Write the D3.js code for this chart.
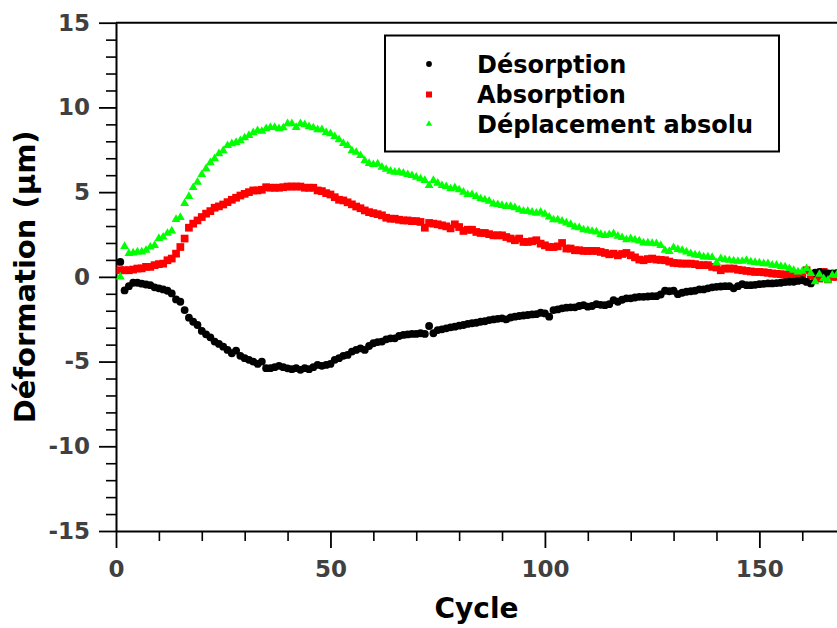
<!DOCTYPE html>
<html>
<head>
<meta charset="utf-8">
<script src="https://cdn.jsdelivr.net/npm/d3@7"></script>
<style>
  html, body { margin: 0; padding: 0; background: #fff; }
  svg { display: block; }
  text { font-family: "DejaVu Sans", sans-serif; font-weight: bold; }
</style>
</head>
<body>
<svg id="chart" width="837" height="628"></svg>
<script>
// ---- data ----
const seriesNames = ["Désorption", "Absorption", "Déplacement absolu"];
const xTicks = [0, 50, 100, 150];
const yTicks = [-15, -10, -5, 0, 5, 10, 15];
const xLabel = "Cycle";
const yLabel = "Déformation (µm)";

const desorption = [
  0.88, -0.80, -0.55, -0.35, -0.35, -0.40, -0.45, -0.49, -0.62, -0.68,
  -0.74, -0.82, -0.98, -1.33, -1.47, -1.96, -2.41, -2.65, -2.84, -3.19,
  -3.39, -3.57, -3.82, -3.96, -4.12, -4.31, -4.51, -4.35, -4.66, -4.80,
  -4.90, -5.00, -5.14, -5.00, -5.39, -5.39, -5.33, -5.25, -5.33, -5.40,
  -5.45, -5.39, -5.49, -5.39, -5.45, -5.33, -5.20, -5.25, -5.20, -5.14,
  -4.90, -4.80, -4.66, -4.61, -4.41, -4.31, -4.22, -4.31, -4.08, -3.92,
  -3.85, -3.82, -3.69, -3.63, -3.63, -3.49, -3.43, -3.40, -3.37, -3.37,
  -3.33, -3.37, -2.90, -3.33, -3.14, -3.10, -3.04, -2.98, -2.94, -2.88,
  -2.84, -2.78, -2.74, -2.71, -2.65, -2.62, -2.55, -2.51, -2.48, -2.45,
  -2.51, -2.40, -2.35, -2.31, -2.28, -2.25, -2.22, -2.20, -2.12, -2.16,
  -2.35, -1.96, -1.92, -1.86, -1.82, -1.80, -1.80, -1.72, -1.67, -1.76,
  -1.72, -1.61, -1.65, -1.67, -1.61, -1.37, -1.47, -1.35, -1.27, -1.27,
  -1.22, -1.18, -1.18, -1.16, -1.14, -1.14, -1.04, -0.82, -0.85, -0.82,
  -1.02, -0.94, -0.88, -0.85, -0.82, -0.74, -0.74, -0.68, -0.62, -0.59,
  -0.57, -0.55, -0.55, -0.68, -0.55, -0.43, -0.49, -0.49, -0.47, -0.43,
  -0.41, -0.39, -0.39, -0.37, -0.35, -0.31, -0.29, -0.29, -0.24, -0.20,
  -0.30, -0.39, 0.24, 0.29, 0.25, 0.20, 0.20, 0.22
];

const absorption = [
  0.39, 0.39, 0.39, 0.43, 0.49, 0.50, 0.59, 0.59, 0.69, 0.75,
  0.78, 0.98, 1.08, 1.37, 1.76, 2.26, 2.90, 3.14, 3.33, 3.53,
  3.73, 3.88, 4.08, 4.16, 4.27, 4.41, 4.55, 4.67, 4.80, 4.90,
  5.00, 5.10, 5.10, 5.14, 5.29, 5.26, 5.26, 5.26, 5.29, 5.33,
  5.33, 5.33, 5.33, 5.26, 5.26, 5.26, 5.10, 5.06, 4.94, 4.86,
  4.70, 4.55, 4.51, 4.40, 4.28, 4.15, 4.05, 3.92, 3.82, 3.76,
  3.70, 3.63, 3.49, 3.43, 3.43, 3.37, 3.33, 3.33, 3.29, 3.29,
  3.24, 2.90, 3.18, 3.14, 3.10, 3.04, 2.98, 2.86, 3.10, 2.94,
  2.71, 2.78, 2.78, 2.65, 2.59, 2.59, 2.52, 2.45, 2.45, 2.45,
  2.35, 2.26, 2.16, 2.26, 2.06, 2.06, 2.10, 2.16, 1.96, 1.86,
  1.76, 1.76, 1.80, 2.00, 1.67, 1.67, 1.57, 1.57, 1.53, 1.53,
  1.53, 1.53, 1.47, 1.41, 1.33, 1.37, 1.27, 1.35, 1.41, 1.27,
  1.15, 1.02, 0.98, 1.05, 1.08, 1.02, 1.00, 0.98, 0.90, 0.82,
  0.80, 0.78, 0.78, 0.78, 0.75, 0.69, 0.69, 0.69, 0.59, 0.55,
  0.39, 0.49, 0.49, 0.49, 0.42, 0.39, 0.35, 0.32, 0.29, 0.29,
  0.27, 0.24, 0.20, 0.18, 0.16, 0.12, 0.10, 0.10, 0.06, 0.04,
  0.39, 0.10, 0.00, -0.10, 0.29, -0.15, 0.00, 0.00
];

const deplacement = [
  0.00, 1.80, 1.38, 1.41, 1.47, 1.47, 1.57, 1.76, 1.86, 2.27,
  2.35, 2.57, 2.71, 3.39, 3.51, 4.33, 4.75, 5.27, 5.59, 6.04,
  6.39, 6.74, 6.98, 7.27, 7.45, 7.75, 7.86, 7.94, 8.04, 8.21,
  8.35, 8.51, 8.63, 8.59, 8.75, 8.82, 8.82, 8.75, 8.80, 9.04,
  9.04, 8.82, 9.04, 8.98, 8.86, 8.80, 8.69, 8.69, 8.53, 8.45,
  8.28, 8.10, 7.88, 7.75, 7.45, 7.35, 7.16, 6.86, 6.70, 6.63,
  6.67, 6.47, 6.35, 6.24, 6.18, 6.18, 6.12, 6.04, 5.98, 5.88,
  5.79, 5.69, 5.39, 5.69, 5.53, 5.39, 5.33, 5.20, 5.26, 5.14,
  5.00, 4.86, 4.86, 4.74, 4.61, 4.55, 4.47, 4.31, 4.27, 4.22,
  4.16, 4.16, 4.08, 3.96, 3.88, 3.88, 3.82, 3.76, 3.82, 3.70,
  3.53, 3.37, 3.37, 3.29, 3.18, 3.10, 2.94, 2.90, 2.78, 2.75,
  2.69, 2.65, 2.51, 2.45, 2.50, 2.55, 2.40, 2.32, 2.20, 2.26,
  2.18, 2.12, 2.00, 2.00, 1.98, 1.96, 1.86, 1.57, 1.50, 1.73,
  1.62, 1.57, 1.47, 1.37, 1.30, 1.27, 1.18, 1.18, 1.15, 0.82,
  1.08, 1.02, 0.98, 0.94, 0.92, 0.92, 0.98, 0.88, 0.85, 0.82,
  0.78, 0.78, 0.69, 0.69, 0.62, 0.59, 0.49, 0.39, 0.29, 0.33,
  0.49, 0.20, -0.29, 0.15, -0.10, -0.20, 0.10, 0.10
];

const cycles = d3.range(1, desorption.length + 1);

// ---- layout ----
const svg = d3.select("#chart");
const mLeft = 116, mRight = 837, mTop = 22.7, mBottom = 531;
const x = d3.scaleLinear().domain([0, 168.1]).range([mLeft, mRight]);
const y = d3.scaleLinear().domain([-15, 15]).range([mBottom, mTop]);

const tickColor = "#404040";
const fmt = d => String(d);

// minor ticks
const yMinor = d3.range(-15, 16, 1).filter(v => v % 5 !== 0);
const xMinor = d3.range(10, 170, 10).filter(v => v % 50 !== 0);

const gyMinor = svg.append("g").attr("transform", `translate(${mLeft},0)`)
  .call(d3.axisLeft(y).tickValues(yMinor).tickSize(10).tickSizeOuter(0).tickFormat(""));
gyMinor.select(".domain").remove();
gyMinor.selectAll("line").attr("stroke", "#000").attr("stroke-width", 1.6);

const gxMinor = svg.append("g").attr("transform", `translate(0,${mBottom})`)
  .call(d3.axisBottom(x).tickValues(xMinor).tickSize(10).tickSizeOuter(0).tickFormat(""));
gxMinor.select(".domain").remove();
gxMinor.selectAll("line").attr("stroke", "#000").attr("stroke-width", 1.6);

// major axes
const gy = svg.append("g").attr("transform", `translate(${mLeft},0)`)
  .call(d3.axisLeft(y).tickValues(yTicks).tickSize(17).tickSizeOuter(0).tickPadding(9).tickFormat(fmt));
gy.select(".domain").attr("stroke", "#000").attr("stroke-width", 2);
gy.selectAll("line").attr("stroke", "#000").attr("stroke-width", 1.8);
gy.selectAll("text").attr("fill", tickColor).style("font-size", "23px")
  .style("font-family", "'DejaVu Sans', sans-serif").style("font-weight", "bold");

const gx = svg.append("g").attr("transform", `translate(0,${mBottom})`)
  .call(d3.axisBottom(x).tickValues(xTicks).tickSize(17).tickSizeOuter(0).tickPadding(13).tickFormat(fmt));
gx.select(".domain").attr("stroke", "#000").attr("stroke-width", 2);
gx.selectAll("line").attr("stroke", "#000").attr("stroke-width", 1.8);
gx.selectAll("text").attr("fill", tickColor).style("font-size", "23px")
  .style("font-family", "'DejaVu Sans', sans-serif").style("font-weight", "bold");

// top frame
svg.append("line").attr("x1", mLeft).attr("x2", mRight).attr("y1", mTop).attr("y2", mTop)
  .attr("stroke", "#000").attr("stroke-width", 2);

// axis titles
svg.append("text").attr("x", (mLeft + mRight) / 2).attr("y", 618)
  .attr("text-anchor", "middle").style("font-size", "28px").attr("fill", "#000").text(xLabel);
svg.append("text").attr("transform", `translate(35,${(mTop + mBottom) / 2}) rotate(-90)`)
  .attr("text-anchor", "middle").style("font-size", "29px").attr("fill", "#000").text(yLabel);

// ---- data marks ----
const circle = d3.symbol().type(d3.symbolCircle).size(48);
const square = d3.symbol().type(d3.symbolSquare).size(60);
const triangle = d3.symbol().type(d3.symbolTriangle).size(34);

const series = [
  { name: seriesNames[0], values: desorption, sym: circle, color: "#000000" },
  { name: seriesNames[1], values: absorption, sym: square, color: "#ff0000" },
  { name: seriesNames[2], values: deplacement, sym: triangle, color: "#00ff00" }
];

const drawOrder = [series[1], series[0], series[2]];
drawOrder.forEach(s => {
  svg.append("g").selectAll("path")
    .data(cycles.map((c, i) => [c, s.values[i]]))
    .join("path")
    .attr("d", s.sym)
    .attr("fill", s.color)
    .attr("transform", d => `translate(${x(d[0])},${y(d[1])})`);
});

// ---- legend ----
const lg = svg.append("g");
lg.append("rect").attr("x", 385).attr("y", 35.5).attr("width", 394).attr("height", 116)
  .attr("fill", "#fff").attr("stroke", "#000").attr("stroke-width", 2);
const legendSyms = [
  d3.symbol().type(d3.symbolCircle).size(26),
  d3.symbol().type(d3.symbolSquare).size(36),
  d3.symbol().type(d3.symbolTriangle).size(18)
];
const legendY = [64, 94.5, 124];
series.forEach((s, i) => {
  lg.append("path").attr("d", legendSyms[i]).attr("fill", s.color)
    .attr("transform", `translate(429,${legendY[i]})`);
  lg.append("text").attr("x", 477).attr("y", legendY[i] + 8.5)
    .style("font-size", "24px").attr("fill", "#000").text(s.name);
});
</script>
</body>
</html>
